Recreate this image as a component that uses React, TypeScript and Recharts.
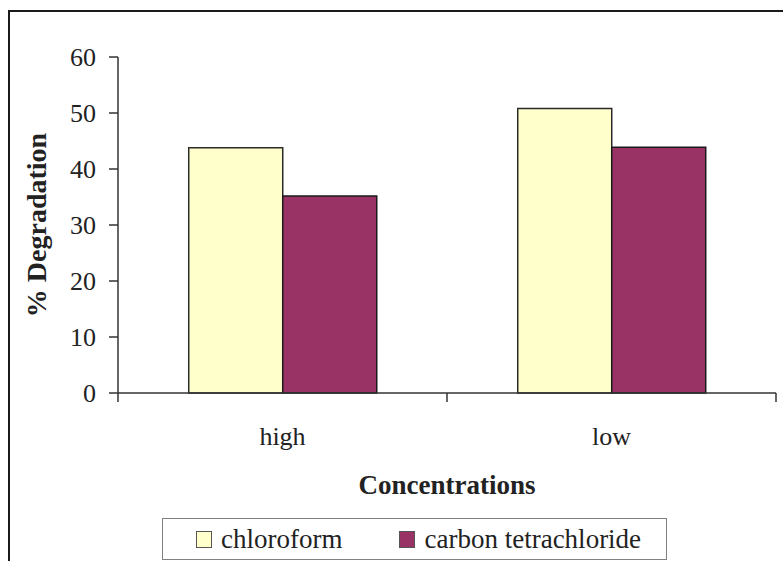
import React from 'react';
import { BarChart, Bar, XAxis, YAxis, Legend, Label } from 'recharts';

const concentrations = ['high', 'low'];
const chloroform = [43.8, 50.8];
const carbonTetrachloride = [35.2, 43.9];
const yTicks = [0, 10, 20, 30, 40, 50, 60];

const series = [
  { key: 'chloroform', name: 'chloroform', fill: '#ffffcc', stroke: '#2a2a2a' },
  { key: 'carbonTetrachloride', name: 'carbon tetrachloride', fill: '#993366', stroke: '#1a1a1a' },
];

const data = concentrations.map((name, i) => ({
  name,
  chloroform: chloroform[i],
  carbonTetrachloride: carbonTetrachloride[i],
}));

const FONT = '"Liberation Serif", "Times New Roman", serif';
const INK = '#222';
const AXIS = '#333';

// category label in the middle of each band, tick marks on the band edges
const CategoryTick = (props: any) => {
  const { x, y, payload, index, visibleTicksCount } = props;
  const half = payload.offset ?? 0;
  const last = index === visibleTicksCount - 1;
  return (
    <g>
      <line x1={x - half} y1={y} x2={x - half} y2={y + 9} stroke={AXIS} strokeWidth={1.5} />
      {last && <line x1={x + half} y1={y} x2={x + half} y2={y + 9} stroke={AXIS} strokeWidth={1.5} />}
      <text x={x} y={y + 52} textAnchor="middle" fill={INK} fontSize={26} fontFamily={FONT}>
        {payload.value}
      </text>
    </g>
  );
};

// boxed legend, items in series order
const LegendBox = () => (
  <div
    style={{
      width: 505,
      height: 42,
      border: '1.5px solid #808080',
      boxSizing: 'border-box',
      display: 'flex',
      alignItems: 'center',
      paddingLeft: 33,
      gap: 57,
      fontFamily: FONT,
      fontSize: 27,
      color: INK,
      background: '#fff',
    }}
  >
    {series.map((s) => (
      <div key={s.key} style={{ display: 'flex', alignItems: 'center', gap: 9, whiteSpace: 'nowrap' }}>
        <span
          style={{
            display: 'inline-block',
            width: 14,
            height: 15,
            background: s.fill,
            border: '1.5px solid #555',
          }}
        />
        <span style={{ lineHeight: '27px' }}>{s.name}</span>
      </div>
    ))}
  </div>
);

export default function App() {
  return (
    <div
      style={{
        position: 'absolute',
        left: 0,
        top: 0,
        width: 783,
        height: 561,
        overflow: 'hidden',
        background: '#fff',
        fontFamily: FONT,
      }}
    >
      <div
        style={{
          position: 'absolute',
          left: 8,
          top: 10,
          width: 820,
          height: 620,
          border: '2px solid #1a1a1a',
        }}
      />
      <div style={{ position: 'absolute', left: 0, top: 0 }}>
        <BarChart
          width={783}
          height={561}
          data={data}
          margin={{ top: 57, right: 7, bottom: 0, left: 0 }}
          barCategoryGap="21.5%"
          barGap={0}
        >
          <XAxis
            dataKey="name"
            height={168}
            axisLine={{ stroke: AXIS, strokeWidth: 1.5 }}
            tickLine={false}
            tickSize={0}
            tickMargin={0}
            tick={<CategoryTick />}
            interval={0}
          >
            <Label
              content={(p: any) => (
                <text
                  x={p.viewBox.x + p.viewBox.width / 2}
                  y={p.viewBox.y + 101}
                  textAnchor="middle"
                  fontFamily={FONT}
                  fontSize={27}
                  fontWeight="bold"
                  fill={INK}
                >
                  Concentrations
                </text>
              )}
            />
          </XAxis>
          <YAxis
            width={118}
            domain={[0, 60]}
            ticks={yTicks}
            interval={0}
            axisLine={{ stroke: AXIS, strokeWidth: 1.5 }}
            tickLine={{ stroke: AXIS, strokeWidth: 1.5 }}
            tickSize={9}
            tickMargin={13}
            tick={{ fill: INK, fontSize: 26, fontFamily: FONT }}
          >
            <Label
              content={(p: any) => {
                const cy = p.viewBox.y + p.viewBox.height / 2;
                return (
                  <text
                    x={46}
                    y={cy}
                    transform={`rotate(-90, 46, ${cy})`}
                    textAnchor="middle"
                    fontFamily={FONT}
                    fontSize={28}
                    fontWeight="bold"
                    fill={INK}
                  >
                    % Degradation
                  </text>
                );
              }}
            />
          </YAxis>
          <Legend
            layout="horizontal"
            verticalAlign="middle"
            align="center"
            wrapperStyle={{ left: 162, top: 518, width: 505, height: 42 }}
            content={<LegendBox />}
          />
          {series.map((s) => (
            <Bar
              key={s.key}
              dataKey={s.key}
              name={s.name}
              fill={s.fill}
              stroke={s.stroke}
              strokeWidth={1.5}
              isAnimationActive={false}
            />
          ))}
        </BarChart>
      </div>
    </div>
  );
}
